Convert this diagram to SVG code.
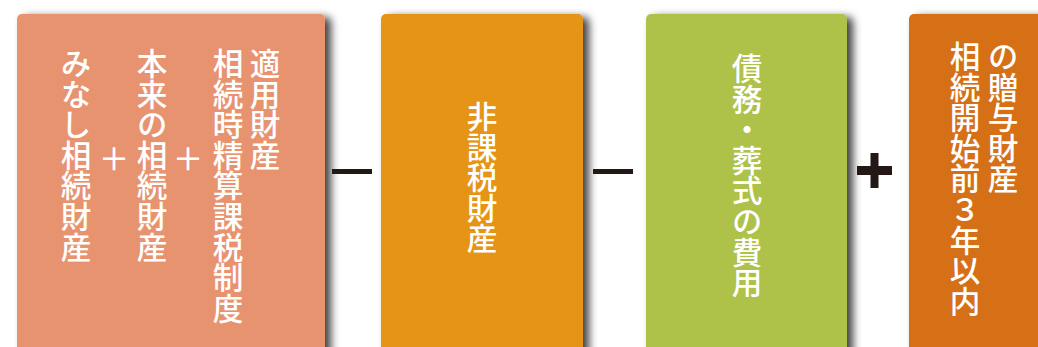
<svg xmlns="http://www.w3.org/2000/svg" width="1038" height="347" viewBox="0 0 1038 347">
<defs>
<filter id="sh" x="-10%" y="-10%" width="130%" height="130%">
<feDropShadow dx="6" dy="3" stdDeviation="4" flood-color="#000" flood-opacity="0.75"/>
</filter>
<style>
.box{filter:url(#sh);}
.t{font-family:"Noto Sans CJK JP","Noto Sans CJK SC",sans-serif;font-size:30.6px;font-weight:500;fill:#fff;writing-mode:vertical-rl;}
.op{fill:#231815;}
</style>
</defs>
<rect width="1038" height="347" fill="#fff"/>
<g id="node1">
<rect class="box" x="17" y="14" width="308" height="350" rx="5" fill="#E8936F"/>
<text class="t" x="265" y="48">適用財産</text>
<text class="t" x="228" y="48">相続時精算課税制度</text>
<text class="t" x="188" y="143">＋</text>
<text class="t" x="152" y="48">本来の相続財産</text>
<text class="t" x="114" y="143">＋</text>
<text class="t" x="76" y="48">みなし相続財産</text>
</g>
<g id="node2">
<rect class="box" x="381" y="14" width="202" height="350" rx="5" fill="#E59417"/>
<text class="t" x="482" y="101">非課税財産</text>
</g>
<g id="node3">
<rect class="box" x="646" y="14" width="201" height="350" rx="5" fill="#AEC14A"/>
<text class="t" x="747" y="53">債務・葬式の費用</text>
</g>
<g id="node4">
<rect class="box" x="909" y="14" width="160" height="350" rx="5" fill="#D66F14"/>
<text class="t" x="1003" y="41">の贈与財産</text>
<text class="t" x="965" y="41">相続開始前３年以内</text>
</g>
<g id="connectors">
<rect class="op" x="332" y="169" width="40" height="5"/>
<rect class="op" x="593" y="169" width="40" height="5"/>
<rect class="op" x="857" y="166" width="35" height="9"/>
<rect class="op" x="870.5" y="153" width="8" height="35"/>
</g>
</svg>
